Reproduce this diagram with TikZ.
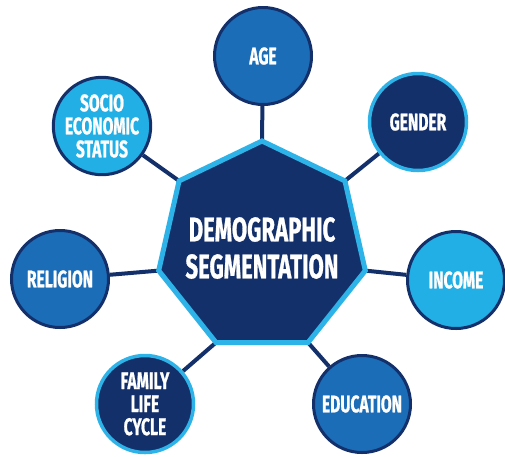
\documentclass[tikz,border=0pt]{standalone}
\usepackage{fontspec}
\newfontfamily\condfont[FakeStretch=0.65, FakeBold=0.8]{Fira Sans}
\pgfdeclarelayer{bg}
\pgfdeclarelayer{lines}
\pgfsetlayers{bg,lines,main}
\definecolor{navy}{HTML}{13306A}
\definecolor{lightblue}{HTML}{22AFE5}
\definecolor{edgeblue}{HTML}{2DB3E8}
\definecolor{midblue}{HTML}{1B6DB8}
\tikzset{
  conn/.style={draw=navy, line width=4pt},
  bubble/.style={circle, minimum size=97pt, inner sep=0pt, align=center,
    text=white, font=\condfont\bfseries\fontsize{24}{23}\selectfont, line width=3pt},
  midbubble/.style={bubble, fill=midblue, draw=navy},
  lightbubble/.style={bubble, fill=lightblue, draw=navy},
  darkbubble/.style={bubble, fill=navy, draw=edgeblue, line width=3.5pt},
  heptshape/.style={fill=navy, draw=edgeblue, line width=5pt, line join=miter},
  centertext/.style={align=center, text=white, inner sep=0pt,
    font=\condfont\bfseries\fontsize{34}{37}\selectfont}
}
\begin{document}
\begin{tikzpicture}[x=1pt, y=-1pt]
\useasboundingbox (0,0) rectangle (505,456);
\begin{pgfonlayer}{bg}
\fill[white] (0,0) rectangle (505,456);
\end{pgfonlayer}
% heptagon vertices
\coordinate (v0) at (262,141);
\coordinate (v1) at (179.1,180.9);
\coordinate (v2) at (158.7,270.6);
\coordinate (v3) at (216.0,342.5);
\coordinate (v4) at (308.0,342.5);
\coordinate (v5) at (365.3,270.6);
\coordinate (v6) at (344.9,180.9);
\draw[heptshape] (v0) -- (v1) -- (v2) -- (v3) -- (v4) -- (v5) -- (v6) -- cycle;
\node[centertext] (center) at (262,248) {DEMOGRAPHIC\\SEGMENTATION};
% satellites
\node[midbubble]   (age)       at (263,56)  {AGE};
\node[darkbubble]  (gender)    at (418,122) {GENDER};
\node[lightbubble] (socio)     at (102,126) {SOCIO\\ECONOMIC\\STATUS};
\node[midbubble]   (religion)  at (60,279)  {RELIGION};
\node[lightbubble] (income)    at (456,280) {INCOME};
\node[darkbubble]  (family)    at (145,404) {FAMILY\\LIFE\\CYCLE};
\node[midbubble]   (education) at (362,404) {EDUCATION};
\begin{pgfonlayer}{lines}
\draw[conn] (v0) -- (age);
\draw[conn] (v6) -- (gender);
\draw[conn] (v1) -- (socio);
\draw[conn] (v2) -- (religion);
\draw[conn] (v5) -- (income);
\draw[conn] (v3) -- (family);
\draw[conn] (v4) -- (education);
\end{pgfonlayer}
\end{tikzpicture}
\end{document}
